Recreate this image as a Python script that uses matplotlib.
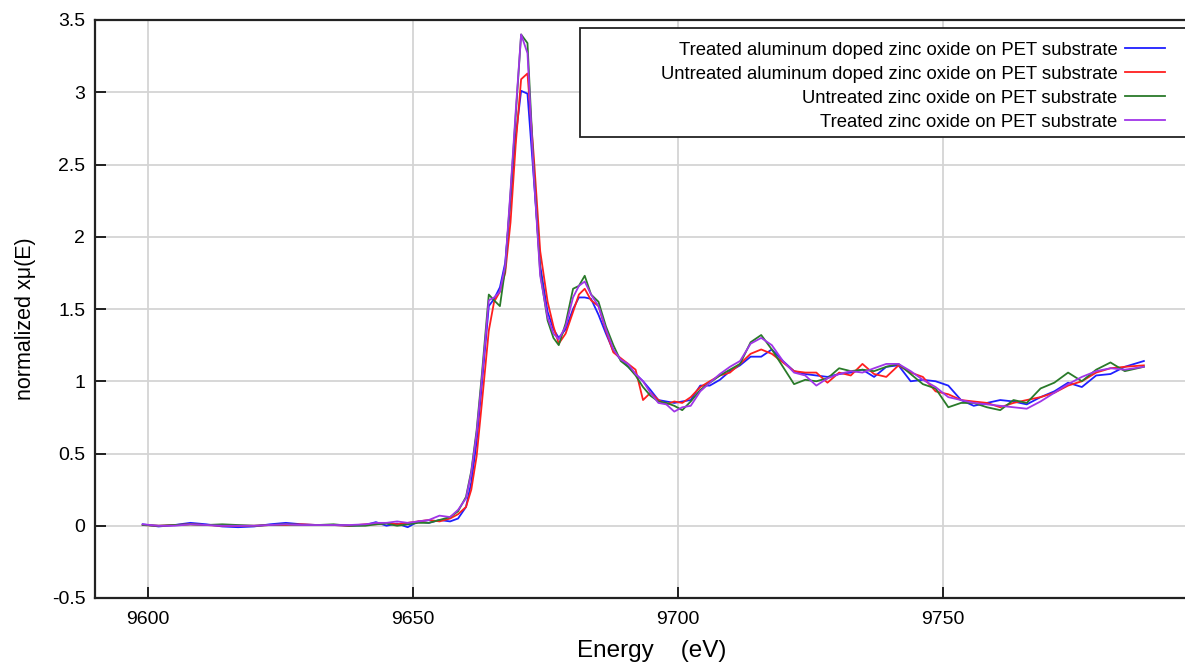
import matplotlib
matplotlib.use("Agg")
import matplotlib.pyplot as plt
from matplotlib.patches import Rectangle
from matplotlib.ticker import FuncFormatter

plt.rcParams['font.family'] = ['Liberation Sans', 'DejaVu Sans']

# energy grid (eV)
energy = [9599, 9602, 9605, 9608, 9611, 9614, 9617, 9620, 9623, 9626, 9629, 9632, 9635, 9638,
          9641, 9643, 9645, 9647, 9649, 9651, 9653, 9655, 9657, 9658.5,
          9660, 9661, 9662, 9663, 9664.3, 9665.3, 9666.4, 9667.4, 9668.4, 9669.4,
          9670.4, 9671.6, 9672.8, 9674.0, 9675.4, 9676.5, 9677.5, 9678.8, 9680.2, 9681.3,
          9682.4, 9683.6, 9685.0, 9686.4, 9687.8, 9689.2, 9690.6, 9692.0, 9693.4, 9694.8,
          9696.3, 9697.8, 9699.3, 9700.8, 9702.4,
          9704.2, 9706.0, 9707.9, 9709.8, 9711.7, 9713.7, 9715.7, 9717.7, 9719.8, 9721.9,
          9724.0, 9726.1, 9728.2, 9730.4, 9732.6, 9734.8, 9737.0, 9739.3, 9741.6, 9743.9,
          9746.2, 9748.6, 9751.0, 9753.4, 9755.8, 9758.3, 9760.8, 9763.3, 9765.8, 9768.4,
          9771.0, 9773.6, 9776.2, 9778.9, 9781.6, 9784.3, 9787.9]

treated_azo = [0.01, -0.005, 0.005, 0.02, 0.01, -0.005, -0.01, -0.005, 0.01, 0.02, 0.01, 0.005, 0.005, 0.0,
               0.005, 0.025, 0.0, 0.015, -0.01, 0.03, 0.02, 0.04, 0.03, 0.05,
               0.13, 0.30, 0.58, 0.98, 1.52, 1.57, 1.65, 1.82, 2.25, 2.70,
               3.01, 2.99, 2.40, 1.80, 1.48, 1.36, 1.30, 1.36, 1.50, 1.58,
               1.58, 1.57, 1.46, 1.33, 1.21, 1.15, 1.10, 1.05, 1.00, 0.94,
               0.87, 0.86, 0.85, 0.86, 0.87,
               0.97, 0.97, 1.01, 1.07, 1.11, 1.17, 1.17, 1.22, 1.14, 1.07,
               1.05, 1.04, 1.03, 1.05, 1.06, 1.08, 1.03, 1.10, 1.11, 1.00,
               1.01, 1.00, 0.97, 0.87, 0.83, 0.85, 0.87, 0.86, 0.84, 0.89,
               0.93, 0.99, 0.96, 1.04, 1.05, 1.10, 1.14]

untreated_azo = [0.005, 0.0, 0.005, 0.01, 0.005, 0.0, 0.0, 0.0, 0.005, 0.005, 0.01, 0.005, 0.005, 0.0,
                 0.01, 0.01, 0.02, 0.01, 0.02, 0.03, 0.04, 0.03, 0.05, 0.08,
                 0.13, 0.25, 0.48, 0.85, 1.35, 1.55, 1.62, 1.75, 2.10, 2.65,
                 3.09, 3.13, 2.55, 1.90, 1.55, 1.38, 1.26, 1.33, 1.48, 1.60,
                 1.64, 1.56, 1.52, 1.35, 1.20, 1.16, 1.12, 1.08, 0.87, 0.92,
                 0.87, 0.84, 0.86, 0.85, 0.89,
                 0.96, 1.00, 1.04, 1.06, 1.12, 1.19, 1.22, 1.19, 1.13, 1.07,
                 1.06, 1.06, 0.99, 1.06, 1.04, 1.12, 1.05, 1.03, 1.11, 1.06,
                 1.03, 0.93, 0.91, 0.87, 0.86, 0.85, 0.82, 0.85, 0.87, 0.89,
                 0.92, 0.97, 1.00, 1.06, 1.09, 1.10, 1.11]

untreated_zno = [0.005, 0.0, 0.005, 0.01, 0.005, 0.01, 0.005, 0.0, 0.005, 0.01, 0.005, 0.005, 0.01, 0.0,
                 0.0, 0.01, 0.015, 0.0, 0.01, 0.02, 0.02, 0.04, 0.06, 0.10,
                 0.20, 0.38, 0.66, 1.05, 1.60, 1.56, 1.52, 1.78, 2.30, 2.85,
                 3.40, 3.34, 2.45, 1.75, 1.42, 1.30, 1.25, 1.40, 1.64, 1.66,
                 1.73, 1.60, 1.55, 1.38, 1.25, 1.14, 1.10, 1.04, 0.96, 0.90,
                 0.86, 0.85, 0.83, 0.80, 0.86,
                 0.94, 0.99, 1.04, 1.08, 1.12, 1.27, 1.32, 1.22, 1.10, 0.98,
                 1.01, 1.00, 1.02, 1.09, 1.07, 1.08, 1.07, 1.10, 1.12, 1.05,
                 0.98, 0.95, 0.82, 0.85, 0.85, 0.82, 0.80, 0.87, 0.85, 0.95,
                 0.99, 1.06, 1.00, 1.08, 1.13, 1.07, 1.10]

treated_zno = [0.01, 0.0, 0.0, 0.01, 0.005, 0.0, 0.0, 0.0, 0.005, 0.01, 0.005, 0.005, 0.005, 0.005,
               0.01, 0.02, 0.02, 0.03, 0.02, 0.03, 0.04, 0.07, 0.06, 0.11,
               0.19, 0.37, 0.64, 1.02, 1.56, 1.58, 1.62, 1.80, 2.32, 2.88,
               3.40, 3.27, 2.42, 1.73, 1.44, 1.33, 1.29, 1.38, 1.58, 1.66,
               1.69, 1.60, 1.52, 1.36, 1.22, 1.15, 1.12, 1.05, 1.00, 0.92,
               0.85, 0.84, 0.79, 0.82, 0.83,
               0.93, 0.99, 1.05, 1.10, 1.14, 1.26, 1.30, 1.25, 1.14, 1.06,
               1.04, 0.97, 1.02, 1.05, 1.07, 1.06, 1.09, 1.12, 1.12, 1.07,
               1.01, 0.96, 0.89, 0.87, 0.85, 0.84, 0.83, 0.82, 0.81, 0.86,
               0.92, 0.98, 1.03, 1.07, 1.09, 1.08, 1.10]

labels = ["Treated aluminum doped zinc oxide on PET substrate",
          "Untreated aluminum doped zinc oxide on PET substrate",
          "Untreated zinc oxide on PET substrate",
          "Treated zinc oxide on PET substrate"]
colors = ['#1f1fff', '#ff1f1f', '#2a7a2a', '#a035e8']
series = [treated_azo, untreated_azo, untreated_zno, treated_zno]

fig = plt.figure(figsize=(11.85, 6.66), dpi=100)
ax = fig.add_axes([95/1185, 68/666, (1208-95)/1185, 578/666])

for y, lab, c in zip(series, labels, colors):
    ax.plot(energy, y, color=c, lw=1.3, label=lab)

ax.set_xlim(9590, 9800)
ax.set_ylim(-0.5, 3.5)
ax.set_xticks([9600, 9650, 9700, 9750])
ax.set_yticks([-0.5, 0, 0.5, 1, 1.5, 2, 2.5, 3, 3.5])
ax.yaxis.set_major_formatter(FuncFormatter(lambda v, p: '%g' % v))
ax.grid(True, color='#d4d4d4', lw=1.3)
ax.set_axisbelow(True)
ax.tick_params(direction='in', length=8, width=1.2, labelsize=14)
ax.tick_params(axis='x', pad=9)
ax.tick_params(axis='y', pad=7)
for s in ['left', 'bottom', 'top']:
    ax.spines[s].set_linewidth(1.6)
    ax.spines[s].set_color('#222222')

ax.set_xlabel('Energy    (eV)', fontsize=17.5, labelpad=9)
ax.set_ylabel('normalized xμ(E)', fontsize=15.5)
ax.yaxis.set_label_coords(-0.053, 0.484)

# boxed legend, text right-aligned with the sample line after it
ax.add_patch(Rectangle((580/1185, 1 - 137/666), 620/1185, 109/666,
                       transform=fig.transFigure, clip_on=False, facecolor='white',
                       edgecolor='#222222', lw=1.3, zorder=4))
leg = ax.legend(loc='upper right', bbox_to_anchor=(1180/1185, 1 - 27/666),
                bbox_transform=fig.transFigure, markerfirst=False, frameon=False,
                fontsize=13.3, handlelength=2.2, handletextpad=0.38, labelspacing=0.38,
                borderpad=0.3)
leg.set_zorder(5)

fig.savefig('out.png', dpi=100)
